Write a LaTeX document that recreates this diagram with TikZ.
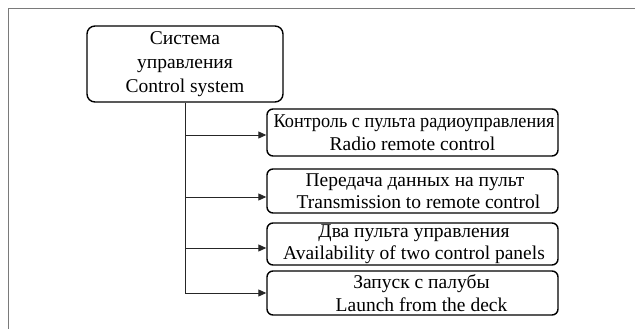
\documentclass[tikz,border=0pt]{standalone}
\usepackage{fontspec}
\setmainfont{Liberation Serif}
\usetikzlibrary{arrows.meta}
\begin{document}
\begin{tikzpicture}[x=1pt,y=-1pt,
  box/.style={draw=black, line width=1.4pt, rounded corners=6pt, align=center,
    inner sep=0pt, font=\fontsize{19.5}{22.5}\selectfont},
  sub/.style={box, minimum width=291pt},
  conn/.style={draw=black!85, line width=0.9pt},
  arr/.style={conn, -{Triangle[length=8pt,width=7pt]}},
  frame/.style={draw=black!52, line width=1.5pt}]
\useasboundingbox (0,0) rectangle (635,329);
\draw[frame] (8.5,329) -- (8.5,8.5) -- (635,8.5);
\node[box, rounded corners=8pt, minimum width=196pt, minimum height=76pt, font=\fontsize{19.5}{24}\selectfont] (main) at (185,64) {Система\\управления\\Control system};
\node[sub, minimum height=47pt] (b1) at (412.5,132.5) {\hspace*{3pt}\scalebox{0.935}[1]{Контроль с пульта радиоуправления}\\Radio remote control};
\node[sub, minimum height=44pt] (b2) at (412.5,191) {\hspace*{5pt}Передача данных на пульт\\\hspace*{12pt}Transmission to remote control};
\node[sub, minimum height=42pt] (b3) at (412.5,244) {\hspace*{3pt}Два пульта управления\\\hspace*{3pt}Availability of two control panels};
\node[sub, minimum height=44pt] (b4) at (412.5,293) {\hspace*{18pt}Запуск с палубы\\\hspace*{18pt}Launch from the deck};
\coordinate (a1) at ([yshift=-2.5pt]b1.west);
\coordinate (a2) at ([yshift=-6pt]b2.west);
\coordinate (a3) at ([yshift=-4pt]b3.west);
\coordinate (a4) at (b4.west);
\coordinate (trunkend) at (main.south |- a4);
\draw[conn] (main.south) -- (trunkend);
\draw[arr] (main.south |- a1) -- (a1);
\draw[arr] (main.south |- a2) -- (a2);
\draw[arr] (main.south |- a3) -- (a3);
\draw[arr] (trunkend) -- (a4);
\end{tikzpicture}
\end{document}
